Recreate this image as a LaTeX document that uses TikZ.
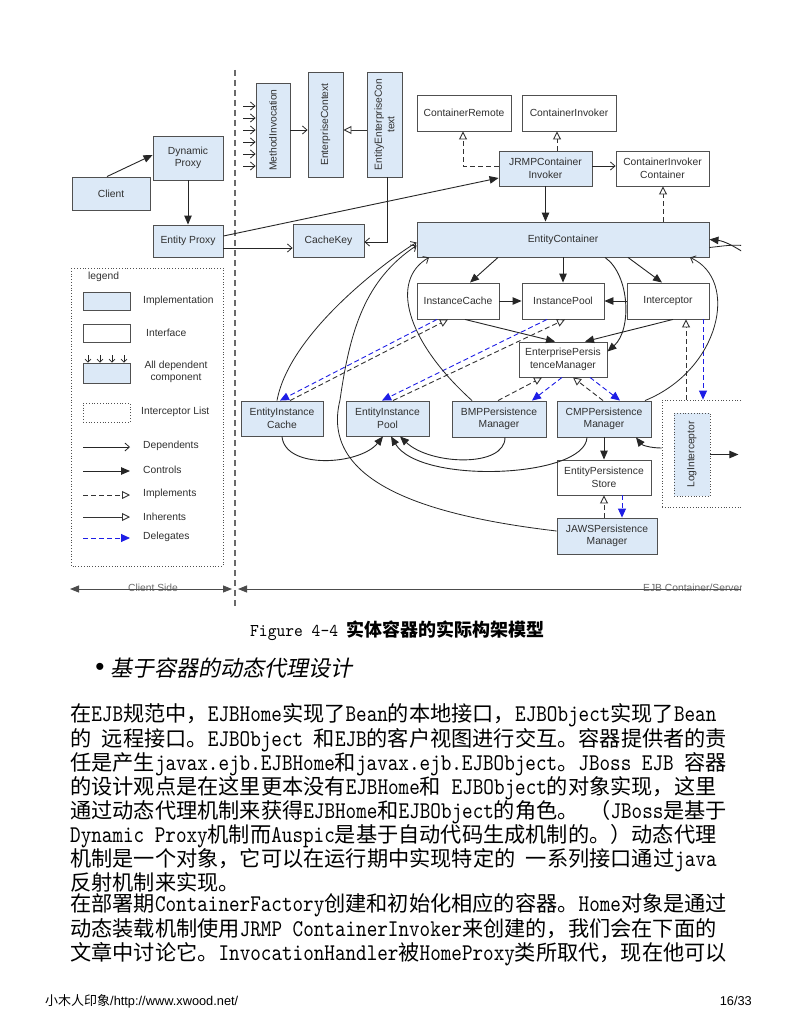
\documentclass[tikz,border=0pt]{standalone}
\usepackage{fontspec}
\setmainfont{Liberation Sans}
\newfontfamily\cjkf{Noto Sans CJK SC}
\newfontfamily\cjki[FakeSlant=0.2]{Noto Sans CJK SC}
\newfontfamily\monof[FakeStretch=0.84]{lmmono10-regular.otf}
\newfontfamily\monoc[FakeStretch=0.93]{lmmono10-regular.otf}
\usetikzlibrary{arrows.meta}
\newcommand\lt[1]{{\monof\fontsize{24}{24}\selectfont #1}}
\newcommand\dfont{\fontsize{10.3}{12.5}\selectfont}
\definecolor{bdr}{HTML}{505050}
\definecolor{implfill}{HTML}{DCE9F7}
\definecolor{txt}{HTML}{303030}
\definecolor{dlgblue}{HTML}{1E1EE6}
\definecolor{vgray}{HTML}{6A6A6A}
\begin{document}
\begin{tikzpicture}[x=1pt,y=-1pt,
  box/.style={draw=bdr, line width=0.9pt, inner sep=0pt, text=txt, font=\dfont, align=center},
  implbox/.style={box, fill=implfill},
  intfbox/.style={box, fill=white},
  dotbox/.style={draw=bdr, dotted, line width=0.8pt, inner sep=0pt},
  lbl/.style={text=txt, font=\dfont, inner sep=0pt, align=center},
  ctrl/.style={draw=black!85, line width=0.9pt, -{Triangle[length=9pt,width=7.5pt]}},
  dep/.style={draw=black!85, line width=0.8pt, -{Straight Barb[length=4.5pt,width=8pt]}},
  realize/.style={draw=black!80, line width=0.9pt, dash pattern=on 5pt off 3pt, -{Triangle[open,length=8pt,width=8pt,fill=white]}},
  inh/.style={draw=black!80, line width=0.9pt, -{Triangle[open,length=8pt,width=8pt,fill=white]}},
  dlg/.style={draw=dlgblue, line width=0.9pt, dash pattern=on 5pt off 3pt, -{Triangle[length=9pt,width=8pt]}},
  sepline/.style={draw=vgray, line width=1.2pt, dash pattern=on 6pt off 4pt},
  bodyline/.style={anchor=base west, inner sep=0pt, font=\cjkf\fontsize{21.2}{24}\selectfont, text=black}
]
\useasboundingbox (0,0) rectangle (800,1035);
\fill[white] (0,0) rectangle (800,1035);

\begin{scope}
\clip (50,60) rectangle (741,615);
% separator
\draw[sepline] (235,70) -- (235,607);

% client side
\node[implbox, minimum width=78pt, minimum height=33pt] (client) at (111,193.5) {Client};
\node[implbox, minimum width=70pt, minimum height=44pt] (dproxy) at (188,158) {Dynamic\\Proxy};
\node[implbox, minimum width=70pt, minimum height=32pt] (eproxy) at (188,241) {Entity Proxy};

% contexts
\node[implbox, minimum width=34pt, minimum height=94pt] (methinv) at (273,130) {};
\node[lbl, rotate=90] (methinvT) at (methinv) {MethodInvocation};
\node[implbox, minimum width=35pt, minimum height=105pt] (entctx) at (325.5,124.5) {};
\node[lbl, rotate=90] (entctxT) at (entctx) {EnterpriseContext};
\node[implbox, minimum width=35pt, minimum height=105pt] (eentctx) at (384.5,124.5) {};
\node[lbl, rotate=90] (eentctxT) at (eentctx) {EntityEnterpriseCon\\text};
\node[implbox, minimum width=71pt, minimum height=33pt] (cachekey) at (328.5,240.5) {CacheKey};

% container side
\node[intfbox, minimum width=94pt, minimum height=36pt] (crem) at (464,113) {ContainerRemote};
\node[intfbox, minimum width=94pt, minimum height=36pt] (cinv) at (569,113) {ContainerInvoker};
\node[implbox, minimum width=93pt, minimum height=35pt] (jrmp) at (545.5,168.5) {JRMPContainer\\Invoker};
\node[intfbox, minimum width=93pt, minimum height=35pt] (cic) at (662.5,168.5) {ContainerInvoker\\Container};
\node[implbox, minimum width=292pt, minimum height=35pt] (econt) at (563,239.5) {EntityContainer};
\node[intfbox, minimum width=82pt, minimum height=36pt] (icache) at (458,301) {InstanceCache};
\node[intfbox, minimum width=82pt, minimum height=36pt] (ipool) at (563,301) {InstancePool};
\node[intfbox, minimum width=82pt, minimum height=36pt] (intc) at (668,301) {Interceptor};
\node[intfbox, minimum width=88pt, minimum height=35pt] (epm) at (563,359.5) {EnterprisePersis\\tenceManager};
\node[implbox, minimum width=82pt, minimum height=35pt] (eic) at (282,418.5) {EntityInstance\\Cache};
\node[implbox, minimum width=83pt, minimum height=35pt] (eip) at (387.5,418.5) {EntityInstance\\Pool};
\node[implbox, minimum width=94pt, minimum height=36pt] (bmp) at (499,419) {BMPPersistence\\Manager};
\node[implbox, minimum width=94pt, minimum height=36pt] (cmp) at (604,419) {CMPPersistence\\Manager};
\node[intfbox, minimum width=94pt, minimum height=35pt] (eps) at (604,477.5) {EntityPersistence\\Store};
\node[implbox, minimum width=100pt, minimum height=36pt] (jaws) at (607,536) {JAWSPersistence\\Manager};
\node[dotbox, minimum width=98pt, minimum height=107pt] (ilist) at (711,453.5) {};
\node[dotbox, fill=implfill, minimum width=36pt, minimum height=83pt] (logi) at (692,454.5) {};
\node[lbl, rotate=90] (logiT) at (logi) {LogInterceptor};

% client connectors
\draw[ctrl] ([xshift=-4pt]client.north) -- ([yshift=3pt]dproxy.west);
\draw[ctrl] (dproxy.south) -- (eproxy.north);
\draw[dep] (eproxy.east |- 0,248) -- (cachekey.west |- 0,248);
\draw[ctrl] (eproxy.east |- 0,236) -- (jrmp.west |- 0,178);
\draw[dep] ([xshift=2.5pt]eentctx.south) |- ([yshift=-1.5pt]cachekey.east);
\draw[dep] (methinv.east |- 0,130) -- (entctx.west |- 0,130);
\draw[inh] (eentctx.west |- 0,130) -- (entctx.east |- 0,130);
\foreach \yy in {106,118,130,142,154,166}
  \draw[dep] (243,\yy) -- (methinv.west |- 0,\yy);

% top right connectors
\draw[realize] (jrmp.west |- 0,166) -| (crem.south -| 463,0);
\draw[realize] (jrmp.north -| 557,0) -- (cinv.south -| 557,0);
\draw[dep] (jrmp.east |- 0,166) -- (cic.west |- 0,166);
\draw[ctrl] (jrmp.south) -- (econt.north -| jrmp.south);
\draw[realize] (econt.north -| 663,0) -- (cic.south -| 663,0);

% container to second row
\draw[ctrl] (econt.south -| 498,0) -- (icache.north -| 470,0);
\draw[ctrl] (econt.south) -- (ipool.north);
\draw[ctrl] (econt.south -| 628,0) -- (intc.north -| 662,0);
\draw[ctrl] (icache.east) -- (ipool.west);
\draw[ctrl] (intc.west) -- (ipool.east);
\draw[ctrl] (icache.south -| 465,0) -- (epm.north -| 555,0);
\draw[ctrl] (intc.south -| 673,0) -- (epm.north -| 585,0);
\draw[ctrl] (econt.south -| 605,0) .. controls (630,275) and (632,330) .. ([yshift=8pt]epm.east);

% persistence managers
\draw[realize] (bmp.north -| 498,0) -- (epm.south -| 542,0);
\draw[dlg] (epm.south -| 562,0) -- (bmp.north -| 532,0);
\draw[realize] (cmp.north -| 603,0) -- (epm.south -| 573,0);
\draw[dlg] (epm.south -| 590,0) -- (cmp.north -| 620,0);

% instance cache / pool implementations
\draw[realize] (eic.north -| 290,0) -- (icache.south -| 448,0);
\draw[dlg] (icache.south -| 437,0) -- (eic.north -| 280,0);
\draw[realize] (eip.north -| 393,0) -- (ipool.south -| 565,0);
\draw[dlg] (ipool.south -| 547,0) -- (eip.north -| 382,0);

% interceptors
\draw[realize] (ilist.north -| 686,0) -- (intc.south -| 686,0);
\draw[dlg] (intc.south -| 703,0) -- (ilist.north -| 703,0);
\draw[ctrl] (logi.east) -- ([xshift=28pt]logi.east);
\draw[ctrl] (ilist.west |- 0,448) .. controls (650,448) and (642,445) .. (cmp.south -| 636,0);

% CMP / store
\draw[ctrl] (cmp.south) -- (eps.north);
\draw[realize] (jaws.north -| 604,0) -- (eps.south -| 604,0);
\draw[dlg] (eps.south -| 622,0) -- (jaws.north -| 622,0);

% bottom curves to pool
\draw[ctrl] (eic.south) .. controls (285,470) and (360,465) .. (eip.south -| 383,0);
\draw[ctrl] (bmp.south -| 505,0) .. controls (505,468) and (430,465) .. (eip.south -| 400,0);
\draw[ctrl] (cmp.south -| 587,0) .. controls (585,478) and (420,485) .. (eip.south -| 391,0);

% curves to entity container
\draw[dep] ([xshift=-5pt]eic.north) .. controls (290,330) and (395,255) .. ([yshift=-3pt]econt.west);
\draw[dep] ([yshift=5pt]jaws.west) .. controls (420,515) and (320,480) .. (340,400) .. controls (350,330) and (365,280) .. ([yshift=-6pt]econt.west);
\draw[dep] (bmp.north -| 472,0) .. controls (405,340) and (390,280) .. (econt.south -| 429,0);
\draw[dep] (cmp.north -| 645,0) .. controls (720,370) and (740,280) .. (econt.south -| 690,0);
\draw[ctrl] (746,254) .. controls (734,246) and (724,241) .. (econt.east);
\draw[draw=black!85, line width=0.8pt] ([yshift=-8pt]econt.east) .. controls (724,246) and (734,244) .. (746,246);

% bottom scale
\node[lbl, text=vgray] (cside) at (153,588) {Client Side};
\node[lbl, text=vgray, anchor=west] (eside) at (643,588) {EJB Container/Server};
\draw[draw=black!70, line width=0.9pt, {Triangle[length=9pt,width=7pt]}-{Triangle[length=9pt,width=7pt]}] (70,589) -- (232,589);
\draw[draw=black!70, line width=0.9pt, -{Triangle[length=9pt,width=7pt]}] (750,589) -- (238,589);

% legend
\draw[dotbox] (71,268) rectangle (223,566);
\node[lbl, anchor=west] (lg) at (88,277) {legend};
\node[implbox, minimum width=47pt, minimum height=18pt] (limpl) at (106.5,301) {};
\node[lbl, anchor=west] (limplT) at (143,301) {Implementation};
\node[intfbox, minimum width=47pt, minimum height=18pt] (lintf) at (106.5,333) {};
\node[lbl, anchor=west] (lintfT) at (146,333) {Interface};
\node[implbox, minimum width=47pt, minimum height=20pt] (ldep) at (106.5,373) {};
\foreach \xx in {88,100,112,124}
  \draw[draw=black!85, line width=0.7pt, -{Straight Barb[length=3pt,width=6pt]}] (\xx,355) -- (ldep.north -| \xx,0);
\node[lbl] (ldepT) at (176,372) {All dependent\\component};
\node[dotbox, minimum width=47pt, minimum height=19pt] (lil) at (106.5,412.5) {};
\node[lbl, anchor=west] (lilT) at (141,412) {Interceptor List};
\coordinate (la1) at (83,447); \coordinate (lb1) at (130,447);
\coordinate (la2) at (83,471); \coordinate (lb2) at (130,471);
\coordinate (la3) at (83,495); \coordinate (lb3) at (130,495);
\coordinate (la4) at (83,517); \coordinate (lb4) at (130,517);
\coordinate (la5) at (83,538); \coordinate (lb5) at (130,538);
\draw[dep] (la1) -- (lb1);
\draw[ctrl] (la2) -- (lb2);
\draw[realize] (la3) -- (lb3);
\draw[inh] (la4) -- (lb4);
\draw[dlg] (la5) -- (lb5);
\node[lbl, anchor=west] (t1) at (143,446) {Dependents};
\node[lbl, anchor=west] (t2) at (143,470) {Controls};
\node[lbl, anchor=west] (t3) at (143,494) {Implements};
\node[lbl, anchor=west] (t4) at (143,517) {Inherents};
\node[lbl, anchor=west] (t5) at (143,537) {Delegates};
\end{scope}

% caption
\node[anchor=base west, inner sep=0pt, font=\monoc\fontsize{18}{20}\selectfont] (cap) at (250,636) {Figure 4-4 {\cjkf\bfseries 实体容器的实际构架模型}};
% heading
\node[inner sep=0pt, font=\fontsize{26}{26}\selectfont] (bul) at (100,669) {•};
\node[anchor=base west, inner sep=0pt, font=\cjki\fontsize{22}{24}\selectfont] (head) at (110,676) {基于容器的动态代理设计};

% body
\node[bodyline] (l1) at (70,721) {在\lt{EJB}规范中，\lt{EJBHome}实现了\lt{Bean}的本地接口，\lt{EJBObject}实现了\lt{Bean}};
\node[bodyline] (l2) at (70,746) {的\lt{\ }远程接口。\lt{EJBObject\ }和\lt{EJB}的客户视图进行交互。容器提供者的责};
\node[bodyline] (l3) at (70,770) {任是产生\lt{javax.ejb.EJBHome}和\lt{javax.ejb.EJBObject}。\lt{JBoss\ EJB\ }容器};
\node[bodyline] (l4) at (70,794) {的设计观点是在这里更本没有\lt{EJBHome}和\lt{\ EJBObject}的对象实现，这里};
\node[bodyline] (l5) at (70,818) {通过动态代理机制来获得\lt{EJBHome}和\lt{EJBObject}的角色。\lt{\ }（\lt{JBoss}是基于};
\node[bodyline] (l6) at (70,842) {\lt{Dynamic\ Proxy}机制而\lt{Auspic}是基于自动代码生成机制的。）动态代理};
\node[bodyline] (l7) at (70,866) {机制是一个对象，它可以在运行期中实现特定的\lt{\ }一系列接口通过\lt{java}};
\node[bodyline] (l8) at (70,890) {反射机制来实现。};
\node[bodyline] (l9) at (70,911) {在部署期\lt{ContainerFactory}创建和初始化相应的容器。\lt{Home}对象是通过};
\node[bodyline] (l10) at (70,936) {动态装载机制使用\lt{JRMP\ ContainerInvoker}来创建的，我们会在下面的};
\node[bodyline] (l11) at (70,960) {文章中讨论它。\lt{InvocationHandler}被\lt{HomeProxy}类所取代，现在他可以};

% footer
\node[anchor=base west, inner sep=0pt, font=\fontsize{12.8}{14}\selectfont] (foot) at (45,1005) {{\cjkf\fontsize{13}{14}\selectfont 小木人印象}/http://www.xwood.net/};
\node[anchor=base east, inner sep=0pt, font=\fontsize{12.8}{14}\selectfont] (page) at (752,1005) {16/33};
\end{tikzpicture}
\end{document}
